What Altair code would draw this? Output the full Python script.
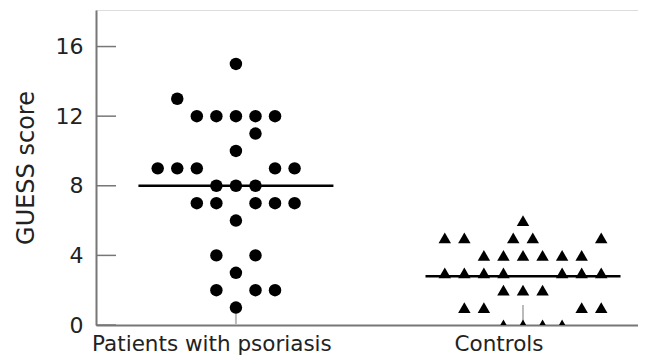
import altair as alt
import pandas as pd

categories = ["Patients with psoriasis", "Controls"]

psoriasis_scores = [15, 13, 12, 12, 12, 12, 12, 11, 10, 9, 9, 9, 9, 9, 8, 8, 8,
                    7, 7, 7, 7, 7, 6, 4, 4, 3, 2, 2, 2, 1]
psoriasis_slots = [0, -3, -2, -1, 0, 1, 2, 1, 0, -4, -3, -2, 2, 3, -1, 0, 1,
                   -2, -1, 1, 2, 3, 0, -1, 1, 0, -1, 1, 2, 0]

controls_scores = [6, 5, 5, 5, 5, 5, 4, 4, 4, 4, 4, 4, 3, 3, 3, 3, 3, 3, 3,
                   2, 2, 2, 1, 1, 1, 1, 0, 0, 0, 0]
controls_slots = [0, -4, -3, -0.5, 0.5, 4, -2, -1, 0, 1, 2, 3, -4, -3, -2, -1, 2, 3, 4,
                  -1, 0, 1, -3, -2, 3, 4, -1, 0, 1, 2]

medians = [8, 2.8]
y_ticks = [0, 4, 8, 12, 16]

points = pd.DataFrame({
    "group": [categories[0]] * len(psoriasis_scores) + [categories[1]] * len(controls_scores),
    "score": psoriasis_scores + controls_scores,
    "slot": psoriasis_slots + controls_slots,
})
med_df = pd.DataFrame({"group": categories, "median": medians})
ytick_df = pd.DataFrame({"v": y_ticks})
cat_df = pd.DataFrame({"group": categories})

FONT = "DejaVu Sans"
TXT = "#222222"
AX = "#777777"

xscale = alt.Scale(domain=categories, paddingInner=0.3, paddingOuter=0.094, align=0.731)
yscale = alt.Scale(domain=[0, 18.1], nice=False, zero=False)

xaxis = alt.Axis(title=None, ticks=False, tickSize=0, labelFont=FONT, labelFontSize=21.5,
                 labelColor=TXT, labelPadding=8, labelLimit=0, labelBaseline="top",
                 labelAlign="center", labelOffset=-24, domainColor=AX, domainWidth=2,
                 labelAngle=0)
yaxis = alt.Axis(title="GUESS score", values=y_ticks, ticks=False, tickSize=0,
                 labelFont=FONT, labelFontSize=22, labelColor=TXT, labelPadding=13,
                 domainColor=AX, domainWidth=2, titleFont=FONT, titleFontSize=24,
                 titleFontWeight="normal", titleColor=TXT, titlePadding=17, grid=False)

pts = alt.Chart(points).mark_point(filled=True, size=155, opacity=1, clip=True, color="black").encode(
    x=alt.X("group:N", scale=xscale, axis=xaxis, sort=categories),
    xOffset=alt.XOffset("slot:Q", scale=alt.Scale(domain=[-5.138, 5.138], nice=False, zero=False)),
    y=alt.Y("score:Q", scale=yscale, axis=yaxis),
    shape=alt.Shape("group:N", scale=alt.Scale(domain=categories, range=["circle", "triangle-up"]), legend=None),
)

med = alt.Chart(med_df).mark_tick(color="black", thickness=2.5, size=195, opacity=1).encode(
    x=alt.X("group:N", scale=xscale, sort=categories),
    y=alt.Y("median:Q", scale=yscale),
)

cat_ticks = alt.Chart(cat_df).mark_rule(color="#bbbbbb", strokeWidth=2).encode(
    x=alt.X("group:N", scale=xscale, sort=categories),
    y=alt.value(315),
    y2=alt.value(295),
)

y_tick_marks = alt.Chart(ytick_df).mark_rule(color=AX, strokeWidth=1.5).encode(
    y=alt.Y("v:Q", scale=yscale),
    x=alt.value(0),
    x2=alt.value(20),
)

chart = alt.layer(cat_ticks, y_tick_marks, med, pts).properties(
    width=542, height=315,
    autosize=alt.AutoSizeParams(type="none"),
    padding={"left": 88, "top": 2, "right": 0, "bottom": 38},
).configure_view(stroke=None).configure(background="white")

chart.save("out.html", embed_options={"renderer": "svg", "actions": False})
